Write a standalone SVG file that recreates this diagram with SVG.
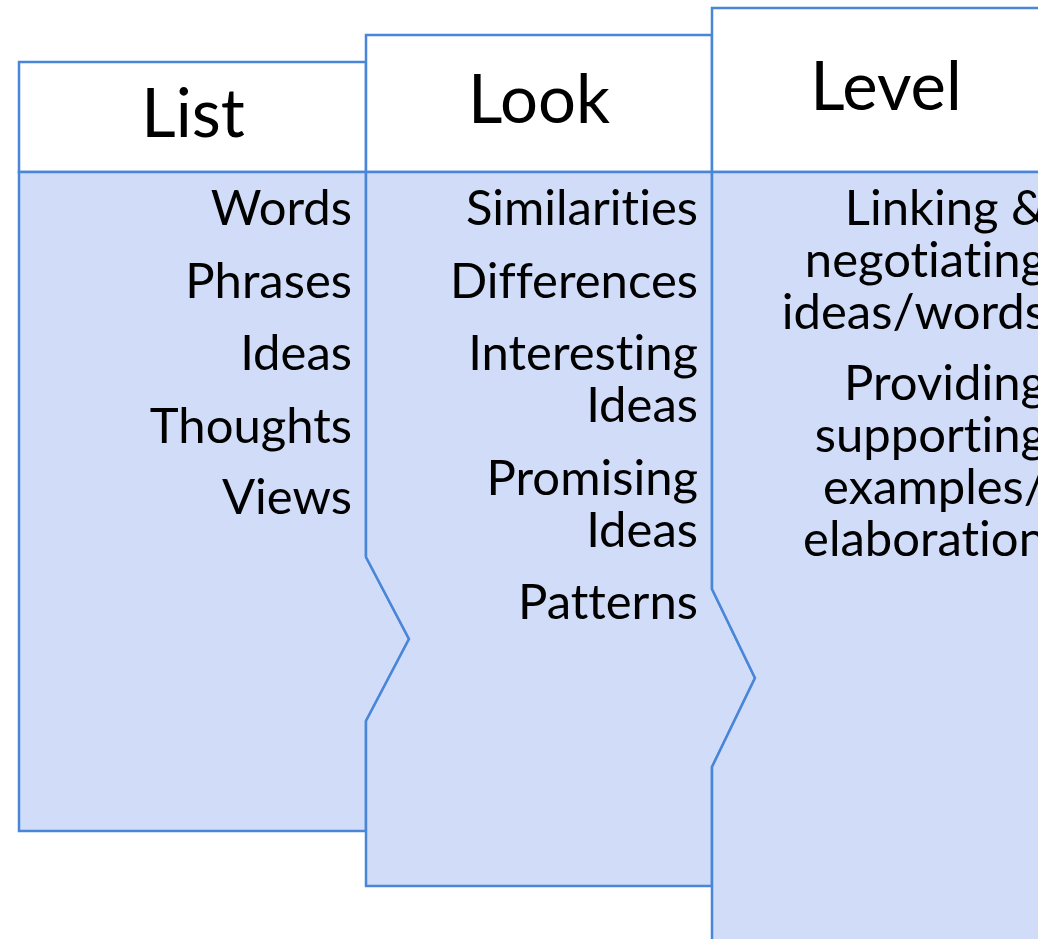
<svg xmlns="http://www.w3.org/2000/svg" width="1038" height="939" viewBox="0 0 1038 939">
<style>
.hd{fill:#ffffff;stroke:#4a86d8;stroke-width:2.5}
.bd{fill:#d0dcf8;stroke:#4a86d8;stroke-width:2.5;stroke-linejoin:miter}
.t{font-family:Lato,"Open Sans","Liberation Sans",sans-serif;fill:#000;font-weight:400;font-variant-ligatures:none;font-feature-settings:"liga" 0}
.h{font-size:67px;text-anchor:middle}
.b{font-size:49px;text-anchor:end}
</style>
<rect width="1038" height="939" fill="#ffffff"/>
<g id="col-list">
<rect class="hd" x="19" y="62" width="347" height="110"/>
<path class="bd" d="M19,172 H366 V557 L409,639 L366,721 V831 H19 Z"/>
<text class="t h" x="193" y="137">List</text>
<text class="t b" x="352" y="225">Words</text>
<text class="t b" x="352" y="298">Phrases</text>
<text class="t b" x="352" y="370">Ideas</text>
<text class="t b" x="352" y="443">Thoughts</text>
<text class="t b" x="352" y="514">Views</text>
</g>
<g id="col-look">
<rect class="hd" x="366" y="35" width="346" height="137"/>
<path class="bd" d="M366,172 H712 V589 L755,678 L712,767 V886 H366 V721 L409,639 L366,557 Z"/>
<text class="t h" x="539" y="123">Look</text>
<text class="t b" x="698" y="225">Similarities</text>
<text class="t b" x="698" y="298">Differences</text>
<text class="t b" x="698" y="370">Interesting</text>
<text class="t b" x="698" y="422">Ideas</text>
<text class="t b" x="698" y="495">Promising</text>
<text class="t b" x="698" y="547">Ideas</text>
<text class="t b" x="698" y="619">Patterns</text>
</g>
<g id="col-level">
<rect class="hd" x="712" y="8" width="348" height="164"/>
<path class="bd" d="M712,172 H1060 V960 H712 V767 L755,678 L712,589 Z"/>
<text class="t h" x="886" y="110">Level</text>
<text class="t b" x="1046" y="225">Linking &amp;</text>
<text class="t b" x="1046" y="277">negotiating</text>
<text class="t b" x="1046" y="329">ideas/words</text>
<text class="t b" x="1046" y="400">Providing</text>
<text class="t b" x="1046" y="452">supporting</text>
<text class="t b" x="1046" y="504">examples/</text>
<text class="t b" x="1046" y="556">elaboration</text>
</g>
<g id="connectors"></g>
</svg>
